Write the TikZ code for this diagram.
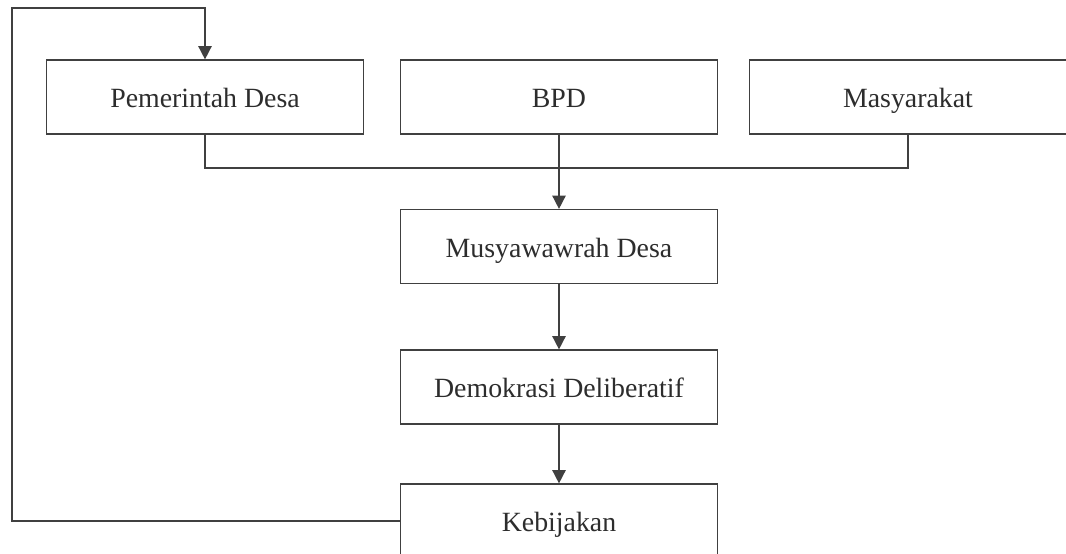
\documentclass[tikz,border=0pt]{standalone}
\usepackage{fontspec}
\setmainfont{Liberation Serif}
\usepackage{xcolor}
\usepackage{tikz}
\usetikzlibrary{arrows.meta,positioning,calc}
\definecolor{lineGray}{RGB}{64,64,64}
\definecolor{textGray}{RGB}{45,45,45}
\tikzset{
    box/.style={draw=lineGray, line width=1.1pt, fill=white, text=textGray,
        minimum width=7.93cm, minimum height=1.84cm, inner sep=0pt,
        text height=15.8pt, text depth=0.8pt,
        font=\fontsize{19.8}{24}\selectfont},
    link/.style={draw=lineGray, line width=1.1pt},
    arr/.style={link, -{Triangle[length=3.3mm,width=3.3mm]}}
}

\begin{document}
\begin{tikzpicture}[x=0.025cm, y=-0.025cm]
            \clip (0,0) rectangle (1066,553);
            \node[box] (pemdes) at (205,97) {Pemerintah Desa};
            \node[box] (bpd) at (559,97) {BPD};
            \node[box] (masy) at (908,97) {Masyarakat};
            \node[box] (musdes) at (559,246.5) {Musyawawrah Desa};
            \node[box] (demo) at (559,387) {Demokrasi Deliberatif};
            \node[box] (bijak) at (559,521) {Kebijakan};
            \coordinate (bus) at (559,168);
            \coordinate (loop) at (12,8);
            \draw[link] (pemdes.south) |- (bus) -| (masy.south);
            \draw[arr] (bpd.south) -- (musdes.north);
            \draw[arr] (musdes.south) -- (demo.north);
            \draw[arr] (demo.south) -- (bijak.north);
            \draw[arr] (bijak.west) -| (loop) -| (pemdes.north);
        \end{tikzpicture}
\end{document}
